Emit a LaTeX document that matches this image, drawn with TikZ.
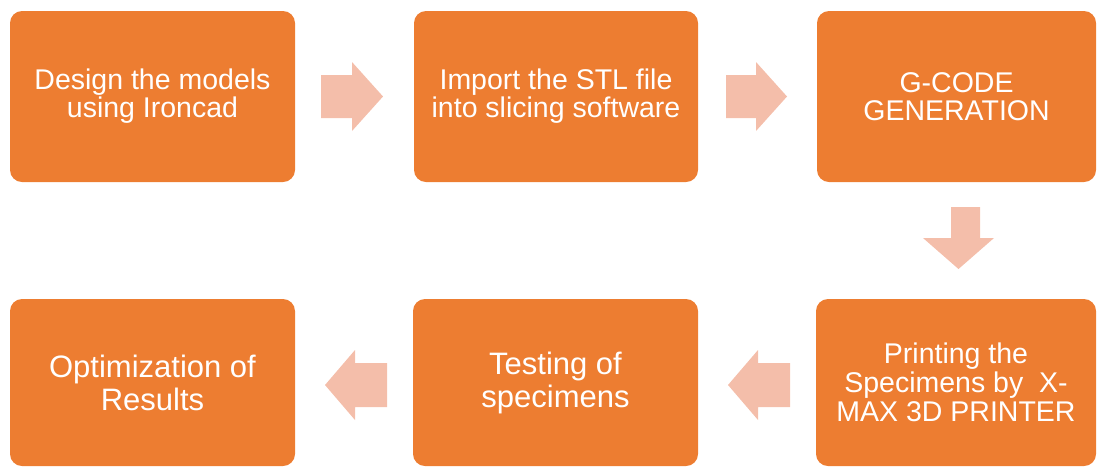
\documentclass[tikz,border=0pt]{standalone}
\usepackage{fontspec}
\setmainfont{Liberation Sans}
\definecolor{boxorange}{HTML}{ED7D31}
\definecolor{arrowpeach}{HTML}{F4BEAA}
\begin{document}
\begin{tikzpicture}[x=1pt,y=-1pt,
  box/.style={fill=boxorange, draw=none, rounded corners=12pt, inner sep=0pt,
    text=white, align=center, font=\fontsize{28.5}{28}\selectfont},
  bigtext/.style={font=\fontsize{31}{33}\selectfont},
  blockarrow/.style={fill=arrowpeach, draw=none}]
\useasboundingbox (0,0) rectangle (1097,467);
% top row
\node[box, minimum width=285pt, minimum height=171pt] (b1) at (152.5,96.5) {Design the models\\using Ironcad};
\node[box, minimum width=284pt, minimum height=171pt] (b2) at (556,96.5) {Import the STL file\\into slicing software};
\node[box, minimum width=279pt, minimum height=171pt] (b3) at (956.5,96.5) {G-CODE\\GENERATION};
% bottom row
\node[box, bigtext, minimum width=285pt, minimum height=167pt] (b4) at (152.5,382.5) {Optimization of\\Results};
\node[box, bigtext, minimum width=285pt, minimum height=167pt] (b5) at (555.5,382.5) {Testing of\\specimens};
\node[box, font=\fontsize{28.5}{29}\selectfont, minimum width=280pt, minimum height=167pt] (b6) at (956,382.5) {Printing the\\Specimens by~ X-\\MAX 3D PRINTER};
% block arrows
\fill[blockarrow] (321,75) -- (352,75) -- (352,62) -- (383,96.5) -- (352,131) -- (352,118) -- (321,118) -- cycle;
\fill[blockarrow] (726,75) -- (756,75) -- (756,62) -- (787,96.5) -- (756,131) -- (756,118) -- (726,118) -- cycle;
\fill[blockarrow] (951,207) -- (980,207) -- (980,238) -- (994,238) -- (958.5,269) -- (923,238) -- (951,238) -- cycle;
\fill[blockarrow] (790,363) -- (758,363) -- (758,350) -- (728,385) -- (758,420) -- (758,407) -- (790,407) -- cycle;
\fill[blockarrow] (387,363) -- (355,363) -- (355,350) -- (325,385) -- (355,420) -- (355,407) -- (387,407) -- cycle;
\end{tikzpicture}
\end{document}
